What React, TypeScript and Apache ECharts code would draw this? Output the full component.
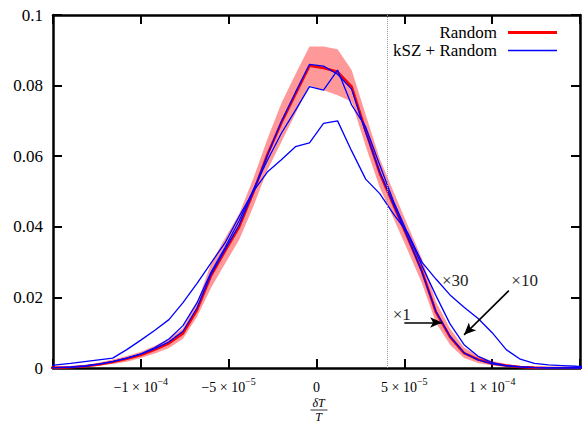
import React, { useEffect, useRef } from "react";
import * as echarts from "echarts";

// bin centres, in units of 1e-5 (dT/T)
const xBins = [
  -15.6, -14.8, -14.0, -13.2, -12.4, -11.6, -10.8, -10.0, -9.2, -8.4,
  -7.6, -6.8, -6.0, -5.2, -4.4, -3.6, -2.8, -2.0, -1.2, -0.4,
  0.4, 1.2, 2.0, 2.8, 3.6, 4.4, 5.2, 6.0, 6.8, 7.6,
  8.4, 9.2, 10.0, 10.8, 11.6, 12.4, 13.2, 14.0, 14.8, 15.6,
];

const random = [
  0, 0.0001, 0.0002, 0.0005, 0.001, 0.0017, 0.0026, 0.0037, 0.0052, 0.007,
  0.0098, 0.0165, 0.0262, 0.0332, 0.04, 0.0497, 0.0604, 0.0695, 0.0776, 0.0856,
  0.085, 0.0839, 0.0797, 0.0672, 0.0552, 0.046, 0.0368, 0.0275, 0.0158, 0.0088,
  0.0042, 0.0024, 0.0013, 0.0007, 0.0003, 0.0001, 0, 0, 0, 0,
];

const randomUpper = [
  0.0001, 0.0002, 0.0004, 0.0008, 0.0015, 0.0024, 0.0034, 0.0046, 0.0063, 0.0083,
  0.0113, 0.0185, 0.0297, 0.0368, 0.0437, 0.0537, 0.0648, 0.075, 0.0832, 0.0911,
  0.0911, 0.0903, 0.0844, 0.0718, 0.0593, 0.0498, 0.0404, 0.031, 0.0188, 0.0112,
  0.0058, 0.0035, 0.002, 0.0011, 0.0006, 0.0003, 0.0001, 0, 0, 0,
];

const randomLower = [
  0, 0, 0.0001, 0.0002, 0.0006, 0.0011, 0.0018, 0.0028, 0.0041, 0.0057,
  0.0083, 0.0145, 0.0227, 0.0296, 0.0363, 0.0457, 0.056, 0.064, 0.072, 0.08,
  0.0787, 0.0773, 0.0754, 0.0628, 0.0511, 0.0422, 0.0332, 0.024, 0.0128, 0.0066,
  0.0028, 0.0014, 0.0007, 0.0003, 0.0001, 0, 0, 0, 0, 0,
];

const ksz1 = [
  0, 0.0001, 0.0002, 0.0005, 0.0011, 0.0018, 0.0028, 0.0039, 0.0055, 0.0074,
  0.0104, 0.017, 0.0266, 0.0336, 0.0405, 0.05, 0.0602, 0.0698, 0.078, 0.086,
  0.0855, 0.0832, 0.079, 0.0668, 0.0555, 0.0462, 0.037, 0.0272, 0.016, 0.009,
  0.0043, 0.0023, 0.0012, 0.0006, 0.0003, 0.0001, 0, 0, 0, 0,
];

const ksz10 = [
  0, 0.0001, 0.0003, 0.0006, 0.0011, 0.0018, 0.0028, 0.004, 0.0058, 0.0082,
  0.012, 0.0185, 0.0272, 0.0342, 0.0418, 0.0505, 0.0588, 0.0665, 0.073, 0.0797,
  0.0787, 0.0844, 0.0745, 0.0683, 0.0575, 0.047, 0.038, 0.029, 0.0205, 0.0125,
  0.0066, 0.0033, 0.0015, 0.0007, 0.0003, 0.0001, 0, 0, 0, 0,
];

const ksz30 = [
  0.0004, 0.0009, 0.0013, 0.0018, 0.0023, 0.0028, 0.0052, 0.0079, 0.0107, 0.0137,
  0.0185, 0.024, 0.0298, 0.0355, 0.043, 0.05, 0.0555, 0.059, 0.0627, 0.0638,
  0.0693, 0.07, 0.0615, 0.0535, 0.0494, 0.0435, 0.0382, 0.03, 0.0252, 0.0207,
  0.0172, 0.014, 0.01, 0.0052, 0.0025, 0.0013, 0.0009, 0.0007, 0.0005, 0.0004,
];

const xMin = -15;
const xMax = 15;
const xInterval = 5;
const yMin = 0;
const yMax = 0.1;
const yInterval = 0.02;
const dottedLineX = 4;

// annotations, in data coordinates
const arrow1 = [[5.0, 0.0129], [7.15, 0.0129]];
const arrow10 = [[10.95, 0.0219], [8.4, 0.0094]];
const annotationLabels = [
  { name: "×1", coord: [4.85, 0.0152] },
  { name: "×30", coord: [7.9, 0.0249] },
  { name: "×10", coord: [11.85, 0.0249] },
];

const FONT = '"Liberation Serif", "DejaVu Serif", serif';

const pairs = (ys: number[]) => xBins.map((x, i) => [x, ys[i]]);

function xLabel(v: number): string {
  const r = Math.round(v);
  if (r === 0) return "{m|0}";
  if (Math.abs(r) >= 15) return "";
  const sign = r < 0 ? "−" : "";
  const a = Math.abs(r);
  const mant = a === 10 ? 1 : a;
  const exp = a === 10 ? 4 : 5;
  return `{m|${sign}${mant} × 10}{e|−${exp}}`;
}

function yLabel(v: number): string {
  if (Math.abs(v) < 1e-9) return "0";
  return String(parseFloat(v.toFixed(2)));
}

export default function App() {
  const ref = useRef<HTMLDivElement>(null);

  useEffect(() => {
    if (!ref.current) return;
    const chart = echarts.init(ref.current, null, { renderer: "svg" });

    const axisLine = { show: true, onZero: false, lineStyle: { color: "#000", width: 2.5 } };
    const axisTick = { show: true, inside: true, length: 9, lineStyle: { color: "#000", width: 2 } };

    const blueLine = {
      type: "line",
      name: "kSZ + Random",
      symbol: "none",
      silent: true,
      itemStyle: { color: "#0000ff" },
      lineStyle: { color: "#0000ff", width: 1.3 },
    };

    // indices of bins inside the plotted x range, for the band polygon
    const inRange = xBins.map((x, i) => i).filter((i) => xBins[i] >= xMin && xBins[i] <= xMax);

    const option: any = {
      animation: false,
      backgroundColor: "#fff",
      grid: { left: 53, right: 1.5, top: 15, bottom: 56, containLabel: false },
      legend: [
        {
          data: ["Random"],
          right: 21,
          top: 19,
          align: "right",
          icon: "rect",
          itemWidth: 49,
          itemHeight: 3,
          selectedMode: false,
          textStyle: { fontFamily: FONT, fontSize: 17, color: "#000", padding: [0, 6, 0, 0] },
        },
        {
          data: ["kSZ + Random"],
          right: 21,
          top: 37,
          align: "right",
          icon: "rect",
          itemWidth: 49,
          itemHeight: 1.5,
          selectedMode: false,
          textStyle: { fontFamily: FONT, fontSize: 17, color: "#000", padding: [0, 6, 0, 0] },
        },
      ],
      xAxis: [
        {
          type: "value",
          position: "bottom",
          min: xMin,
          max: xMax,
          interval: xInterval,
          axisLine,
          axisTick,
          splitLine: { show: false },
          axisLabel: {
            margin: 8,
            formatter: xLabel,
            rich: {
              m: { fontFamily: FONT, fontSize: 14, color: "#000", lineHeight: 22 },
              e: { fontFamily: FONT, fontSize: 10, color: "#000", lineHeight: 10, verticalAlign: "top" },
            },
          },
        },
        {
          type: "value",
          position: "top",
          min: xMin,
          max: xMax,
          interval: xInterval,
          axisLine,
          axisTick,
          splitLine: { show: false },
          axisLabel: { show: false },
        },
      ],
      yAxis: [
        {
          type: "value",
          position: "left",
          min: yMin,
          max: yMax,
          interval: yInterval,
          axisLine,
          axisTick,
          splitLine: { show: false },
          axisLabel: { margin: 10, formatter: yLabel, fontFamily: FONT, fontSize: 17, color: "#000" },
        },
        {
          type: "value",
          position: "right",
          min: yMin,
          max: yMax,
          interval: yInterval,
          axisLine,
          axisTick,
          splitLine: { show: false },
          axisLabel: { show: false },
        },
      ],
      graphic: [
        {
          type: "group",
          left: 308,
          top: 397,
          children: [
            {
              type: "text",
              x: 10,
              y: 0,
              style: {
                text: "δT",
                font: `italic 12px ${FONT}`,
                fill: "#000",
                align: "center",
                textAlign: "center",
                verticalAlign: "top",
                textVerticalAlign: "top",
              },
            },
            { type: "line", shape: { x1: 2, y1: 13, x2: 19, y2: 13 }, style: { stroke: "#000", lineWidth: 0.8 } },
            {
              type: "text",
              x: 10,
              y: 14,
              style: {
                text: "T",
                font: `italic 12px ${FONT}`,
                fill: "#000",
                align: "center",
                textAlign: "center",
                verticalAlign: "top",
                textVerticalAlign: "top",
              },
            },
          ],
        },
      ],
      series: [
        {
          type: "custom",
          name: "band",
          silent: true,
          coordinateSystem: "cartesian2d",
          data: [[0, 0]],
          renderItem: (_params: any, api: any) => {
            const top = inRange.map((i) => api.coord([xBins[i], randomUpper[i]]));
            const bottom = inRange
              .slice()
              .reverse()
              .map((i) => api.coord([xBins[i], randomLower[i]]));
            return {
              type: "polygon",
              shape: { points: top.concat(bottom) },
              style: { fill: "rgba(255,0,0,0.4)", stroke: "none" },
            };
          },
        },
        {
          type: "line",
          name: "Random",
          symbol: "none",
          silent: true,
          itemStyle: { color: "#ff0000" },
          lineStyle: { color: "#ff0000", width: 2.6 },
          data: pairs(random),
          markLine: {
            silent: true,
            symbol: "none",
            label: { show: false },
            lineStyle: { color: "#999", width: 1, type: "dotted" },
            data: [{ xAxis: dottedLineX }],
          },
        },
        { ...blueLine, data: pairs(ksz1) },
        { ...blueLine, data: pairs(ksz10) },
        {
          ...blueLine,
          data: pairs(ksz30),
          markLine: {
            silent: true,
            label: { show: false },
            lineStyle: { color: "#000", width: 1.6, type: "solid" },
            data: [
              [
                { coord: arrow1[0], symbol: "none" },
                { coord: arrow1[1], symbol: "arrow", symbolSize: [8, 12] },
              ],
              [
                { coord: arrow10[0], symbol: "none" },
                { coord: arrow10[1], symbol: "arrow", symbolSize: [8, 12] },
              ],
            ],
          },
          markPoint: {
            silent: true,
            symbol: "rect",
            symbolSize: 1,
            itemStyle: { color: "rgba(0,0,0,0)" },
            label: {
              show: true,
              position: "inside",
              formatter: "{b}",
              fontFamily: FONT,
              fontSize: 17,
              color: "#222",
            },
            data: annotationLabels.map((a) => ({ name: a.name, coord: a.coord })),
          },
        },
      ],
    };

    chart.setOption(option);
    return () => chart.dispose();
  }, []);

  return (
    <div
      ref={ref}
      style={{ position: "absolute", left: 0, top: 0, width: 583, height: 424, background: "#fff" }}
    />
  );
}
